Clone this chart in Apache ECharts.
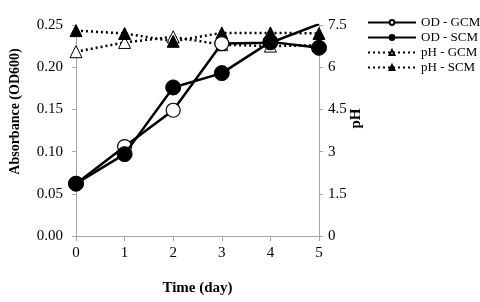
<!DOCTYPE html>
<html><head><meta charset="utf-8">
<script src="https://cdn.jsdelivr.net/npm/echarts@6/dist/echarts.min.js"></script>
<style>html,body{margin:0;padding:0;background:#fff}#c{width:480px;height:302px}</style>
</head><body><div id="c"></div>
<script>
const days = [0, 1, 2, 3, 4, 5];
const odGCM = [0.062, 0.106, 0.149, 0.228, 0.229, 0.251];
const odSCM = [0.062, 0.097, 0.176, 0.193, 0.230, 0.223];
const phGCM = [6.55, 6.88, 7.08, 6.80, 6.75, 6.78];
const phSCM = [7.30, 7.20, 6.92, 7.22, 7.22, 7.20];
const leftTicks = [0, 0.05, 0.10, 0.15, 0.20, 0.25];
const rightTicks = [0, 1.5, 3, 4.5, 6, 7.5];

const font = '"Liberation Serif", "Times New Roman", serif';
const pair = (arr) => days.map((d, i) => [d, arr[i]]);
const axisLine = {show: true, lineStyle: {color: '#a6a6a6', width: 1}};
const chart = echarts.init(document.getElementById('c'));
chart.setOption({
  animation: false,
  backgroundColor: '#fff',
  textStyle: {fontFamily: font},
  grid: {left: 76, right: 161, top: 25, bottom: 66},
  legend: {
    left: 367, top: 16, orient: 'vertical', itemGap: 2, itemWidth: 48, itemHeight: 6,
    padding: 0,
    textStyle: {fontFamily: font, fontSize: 13, color: '#000'},
    data: ['OD - GCM', 'OD - SCM', 'pH - GCM', 'pH - SCM']
  },
  xAxis: {
    type: 'value', min: 0, max: 5, interval: 1,
    name: 'Time (day)', nameLocation: 'middle', nameGap: 45,
    nameTextStyle: {fontFamily: font, fontSize: 15, fontWeight: 'bold', color: '#000'},
    axisLine: axisLine, axisTick: {show: true, length: 5, lineStyle: {color: '#a6a6a6'}},
    axisLabel: {fontFamily: font, fontSize: 15, color: '#000', margin: 10,
      formatter: v => String(days[v] !== undefined ? days[v] : v)},
    splitLine: {show: false}
  },
  yAxis: [{
    type: 'value', min: 0, max: 0.25, interval: 0.05,
    name: 'Absorbance (OD600)', nameLocation: 'middle', nameGap: 54,
    nameTextStyle: {fontFamily: font, fontSize: 14, fontWeight: 'bold', color: '#000', padding: [0, 0, 0, 38]},
    axisLine: axisLine, axisTick: {show: true, length: 4, lineStyle: {color: '#a6a6a6'}},
    axisLabel: {fontFamily: font, fontSize: 15, color: '#000', margin: 13,
      formatter: v => { const t = leftTicks.find(x => Math.abs(x - v) < 1e-9); return (t !== undefined ? t : v).toFixed(2); }},
    splitLine: {show: false}
  }, {
    type: 'value', min: 0, max: 7.5, interval: 1.5, position: 'right',
    name: 'pH', nameLocation: 'middle', nameGap: 30, nameRotate: 90, nameMoveOverlap: false,
    nameTextStyle: {fontFamily: font, fontSize: 15, fontWeight: 'bold', color: '#000', padding: [0, 0, 0, 24]},
    axisLine: axisLine, axisTick: {show: true, length: 4, lineStyle: {color: '#a6a6a6'}},
    axisLabel: {fontFamily: font, fontSize: 15, color: '#000', margin: 9,
      formatter: v => { const t = rightTicks.find(x => Math.abs(x - v) < 1e-9); return String(t !== undefined ? t : v); }},
    splitLine: {show: false}
  }],
  series: [
    {name: 'pH - GCM', type: 'line', yAxisIndex: 1, data: pair(phGCM),
      symbol: 'triangle', symbolSize: 12, z: 2,
      lineStyle: {color: '#000', width: 2.5, type: [2, 3]},
      itemStyle: {color: '#fff', borderColor: '#000', borderWidth: 1}},
    {name: 'pH - SCM', type: 'line', yAxisIndex: 1, data: pair(phSCM),
      symbol: 'triangle', symbolSize: 12, z: 2,
      lineStyle: {color: '#000', width: 2.5, type: [2, 3]},
      itemStyle: {color: '#000', borderColor: '#000', borderWidth: 1}},
    {name: 'OD - GCM', type: 'line', yAxisIndex: 0, data: pair(odGCM),
      symbol: 'circle', symbolSize: 14, z: 3,
      lineStyle: {color: '#000', width: 2.5},
      itemStyle: {color: '#fff', borderColor: '#000', borderWidth: 1.2}},
    {name: 'OD - SCM', type: 'line', yAxisIndex: 0, data: pair(odSCM),
      symbol: 'circle', symbolSize: 15, z: 4,
      lineStyle: {color: '#000', width: 2.5},
      itemStyle: {color: '#000', borderColor: '#000', borderWidth: 1}}
  ]
});
</script></body></html>
